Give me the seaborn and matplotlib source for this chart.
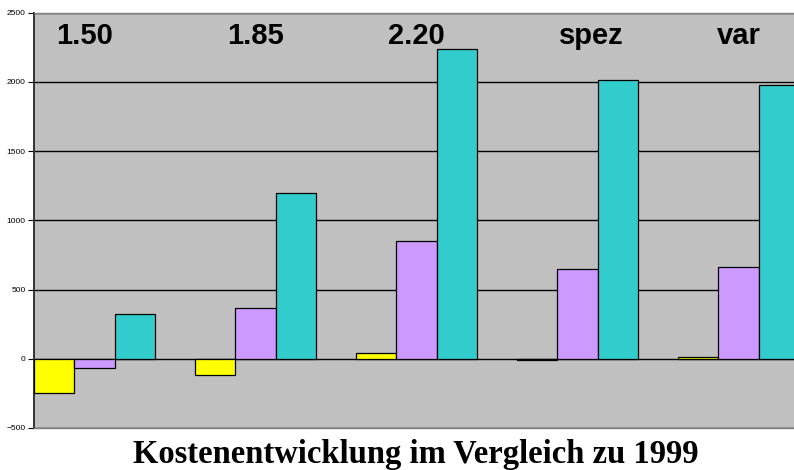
import pandas as pd
import matplotlib as mpl
mpl.use('Agg')
import matplotlib.pyplot as plt
import seaborn as sns

# group labels written above the bars
groups = ['1.50', '1.85', '2.20', 'spez', 'var']
# three series per group (yellow, purple, teal)
series = ['A', 'B', 'C']
values_a = [-250, -120, 40, -10, 15]
values_b = [-70, 370, 850, 645, 665]
values_c = [320, 1195, 2235, 2015, 1975]
colors = ['#FFFF00', '#CC99FF', '#33CCCC']
title = 'Kostenentwicklung im Vergleich zu 1999'

rows = []
for g, a, b, c in zip(groups, values_a, values_b, values_c):
    rows.append({'group': g, 'series': 'A', 'value': a})
    rows.append({'group': g, 'series': 'B', 'value': b})
    rows.append({'group': g, 'series': 'C', 'value': c})
df = pd.DataFrame(rows)

sns.set_theme(style='white')
plt.rcParams['font.family'] = ['Liberation Sans', 'DejaVu Sans']
plt.rcParams['text.color'] = 'black'
plt.rcParams['ytick.color'] = 'black'

fig = plt.figure(figsize=(7.94, 4.70), dpi=100)
ax = fig.add_axes([34 / 794, 1 - 428 / 470, 1 - 34 / 794, (428 - 12.5) / 470])
ax.set_facecolor('#C0C0C0')

sns.barplot(data=df, x='group', y='value', hue='series', hue_order=series,
            palette=colors, saturation=1, width=0.75, edgecolor='black',
            linewidth=0.9, legend=False, ax=ax, zorder=3)

ax.set_ylim(-500, 2500)
ax.set_yticks(range(-500, 2501, 500))
ax.set_xlim(-0.375, 4.345)
ax.yaxis.grid(True, color='black', linewidth=1.0, zorder=1)
ax.set_axisbelow(True)
ax.set_xlabel('')
ax.set_ylabel('')
ax.set_xticks([])
ax.tick_params(axis='y', direction='out', length=4, width=0.8,
               labelsize=6, pad=2, left=True, colors='black')

ax.spines['right'].set_visible(False)
ax.spines['left'].set_color('#333333')
ax.spines['left'].set_linewidth(1.4)
ax.spines['top'].set_color('#808080')
ax.spines['bottom'].set_color('#808080')
ax.spines['top'].set_linewidth(1.0)
ax.spines['bottom'].set_linewidth(1.0)

# group labels near the top of the plot area
label_shift = [-0.06, 0.0, 0.0, 0.085, 0.0]
for i, g in enumerate(groups):
    ax.text(i + label_shift[i], 0.943, g, transform=ax.get_xaxis_transform(),
            ha='center', va='center', fontsize=21, fontweight='bold',
            color='black', zorder=5)

fig.text(416 / 794, 1 - 454 / 470, title, ha='center', va='center',
         fontsize=23.5, fontweight='bold', color='black',
         family=['Liberation Serif', 'DejaVu Serif'])

fig.savefig('out.png', dpi=100)
